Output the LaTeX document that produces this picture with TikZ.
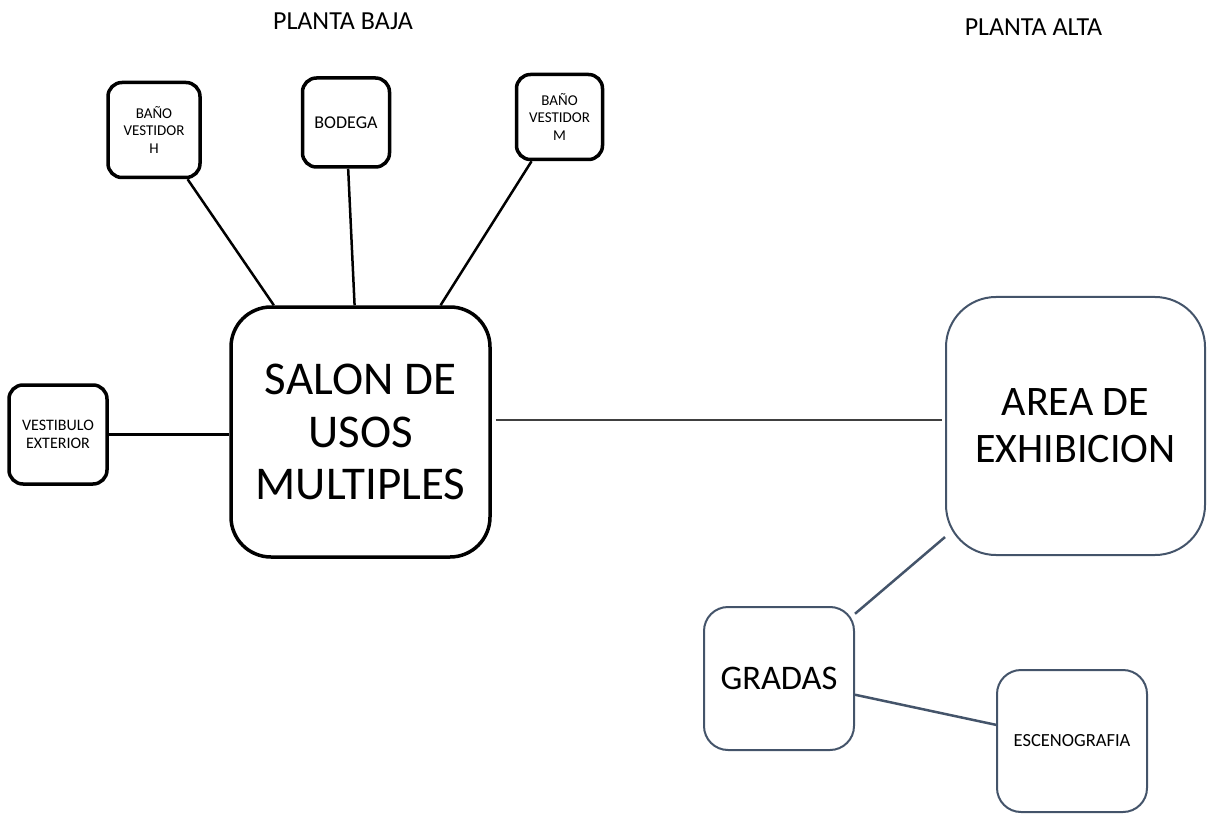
\documentclass[tikz,border=0pt]{standalone}
\usepackage{fontspec}
\setmainfont{Carlito}
\definecolor{slate}{HTML}{44546A}
\definecolor{linegray}{HTML}{404040}
\begin{document}
\begin{tikzpicture}[x=1pt,y=-1pt,
  smallbox/.style={draw=black, line width=3.5pt, rounded corners=14pt, inner sep=0pt, align=center},
  bigbox/.style={draw=black, line width=3.5pt, rounded corners=40pt, inner sep=0pt, align=center},
  slatebox/.style={draw=slate, line width=2pt, inner sep=0pt, align=center},
  blackline/.style={draw=black, line width=2.5pt},
  slateline/.style={draw=slate, line width=2.5pt},
  title/.style={inner sep=0pt, font=\fontsize{26}{30}\selectfont}]
\useasboundingbox (0,0) rectangle (1207,818);

\node[title] (baja) at (343,21) {PLANTA BAJA};
\node[title] (alta) at (1033.5,27) {PLANTA ALTA};

\node[smallbox, minimum width=92pt, minimum height=95pt, font=\fontsize{15}{17.5}\selectfont] (h) at (154,130) {BAÑO\\VESTIDOR\\H};
\node[smallbox, minimum width=87pt, minimum height=89pt, font=\fontsize{18}{21}\selectfont] (bod) at (346,122.5) {BODEGA};
\node[smallbox, minimum width=86pt, minimum height=85pt, font=\fontsize{15}{17.5}\selectfont] (m) at (559.5,117) {BAÑO\\VESTIDOR\\M};
\node[smallbox, minimum width=98pt, minimum height=99pt, font=\fontsize{16}{18}\selectfont] (vest) at (58,434.5) {VESTIBULO\\EXTERIOR};
\node[bigbox, minimum width=259pt, minimum height=250pt, font=\fontsize{47}{52.5}\selectfont] (salon) at (360.5,432) {SALON DE\\USOS\\MULTIPLES};

\node[slatebox, rounded corners=50pt, minimum width=259pt, minimum height=258pt, font=\fontsize{42}{47}\selectfont] (area) at (1075.5,426) {AREA DE\\EXHIBICION};
\node[slatebox, rounded corners=24pt, minimum width=150pt, minimum height=143pt, font=\fontsize{34.5}{40}\selectfont] (grad) at (779,678.5) {GRADAS};
\node[slatebox, rounded corners=24pt, minimum width=150pt, minimum height=142pt, font=\fontsize{18.5}{22}\selectfont] (esc) at (1072,741) {ESCENOGRAFIA};

\draw[blackline] (h) -- (salon);
\draw[blackline] (bod) -- (salon);
\draw[blackline] (m) -- (salon);
\draw[blackline] (vest.east) -- (vest.east -| salon.west);
\draw[linegray, line width=1.5pt] ([xshift=4pt, yshift=12pt]salon.east) -- ([xshift=-3pt, yshift=12pt]salon.east -| area.west);
\draw[slateline] (area) -- (grad);
\draw[slateline] (grad) -- (esc);
\end{tikzpicture}
\end{document}
